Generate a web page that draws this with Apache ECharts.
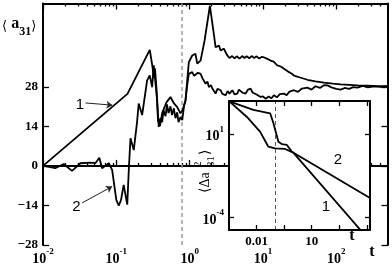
<!DOCTYPE html>
<html><head><meta charset="utf-8">
<script src="https://cdn.jsdelivr.net/npm/echarts@6/dist/echarts.min.js"></script>
<style>html,body{margin:0;padding:0;background:#fff}#c{width:392px;height:273px}</style>
</head><body><div id="c"></div>
<script>
// ---- main panel data ----
const curve1 = [[0.01,0],[0.142,25.5],[0.286,41.1],[0.311,35.2],[0.324,31.3],[0.337,34.5],[0.353,27.5],[0.370,16.2],[0.394,14.1],[0.422,18.7],[0.483,22.5],[0.548,24.4],[0.609,22.2],[0.677,20.8],[0.751,18.6],[0.80,19.7],[0.879,23.2],[0.975,36.7],[1.085,39.1],[1.20,39.7],[1.27,36.2],[1.41,37.3],[1.6,44.4],[1.89,56.7],[2.14,46.7],[2.26,42.0],[2.51,42.6],[2.64,40.9],[2.93,41.5],[3.26,39.1],[3.5,38.2],[3.8,38.9],[4.1,38.1],[4.4,38.8],[4.8,38.0],[5.2,38.9],[5.6,38.2],[6.0,38.8],[6.5,38.1],[7.0,38.9],[7.6,38.2],[8.2,38.8],[8.9,38.0],[9.6,38.6],[10.4,38.4],[11.5,37.9],[12.7,37.3],[14,36.9],[15.7,35.6],[17.5,35.2],[19.4,34.4],[21,33.8],[22.7,33.2],[24.5,32.7],[26.5,32.0],[32,31.3],[40.4,30.5],[52,29.9],[68,29.5],[90,29.1],[115,28.9],[150,28.7],[195,28.5],[260,28.4],[328,28.3],[500,28.2]];
const curve2 = [[0.01,0.1],[0.0147,-0.81],[0.0191,0.70],[0.0249,-1.76],[0.0323,0.95],[0.0443,1.16],[0.0518,0.95],[0.0587,2.9],[0.064,-0.81],[0.0787,0.95],[0.0877,-1.4],[0.100,-12.0],[0.108,-14.1],[0.116,-12.0],[0.126,-6.7],[0.141,-13.7],[0.148,-1.4],[0.156,9.8],[0.173,5.6],[0.192,15.6],[0.202,22.1],[0.225,18.0],[0.263,30.3],[0.286,32.0],[0.308,27.9],[0.324,35.6],[0.361,23.2],[0.379,13.8],[0.400,16.9],[0.422,15.5],[0.440,19.7],[0.469,17.6],[0.491,21.8],[0.515,18.7],[0.548,21.1],[0.575,18.0],[0.609,20.4],[0.641,16.9],[0.677,19.0],[0.705,15.5],[0.751,17.3],[0.793,16.2],[0.838,21.1],[0.879,23.2],[0.922,28.2],[0.975,32.6],[1.085,33.2],[1.15,31.9],[1.2,32.0],[1.3,33.0],[1.41,32.6],[1.5,31.0],[1.65,29.1],[1.75,29.9],[1.83,27.9],[1.95,28.6],[2.04,27.4],[2.15,26.5],[2.26,25.6],[2.4,27.3],[2.64,26.8],[2.8,25.5],[3.09,25.0],[3.3,26.5],[3.5,25.6],[3.82,26.8],[4.1,25.3],[4.47,25.6],[4.7,27.0],[4.96,27.4],[5.3,25.9],[5.8,25.6],[6.2,26.9],[6.79,27.4],[7.2,26.0],[7.54,26.2],[8.3,25.2],[9.31,24.4],[10,24.6],[10.9,23.8],[12,24.6],[13,23.9],[14.1,25.0],[15.5,24.3],[17,25.4],[19.4,25.6],[21,25.0],[23,26.3],[26.5,26.8],[30,26.2],[34,27.4],[40.4,27.7],[46,27.0],[52,28.2],[60,27.6],[68,28.6],[76,28.5],[86,27.8],[100,27.3],[115,27.0],[130,27.6],[150,27.3],[170,27.9],[195,27.7],[230,28.3],[270,27.8],[328,28.2],[400,28.0],[500,28.2]];
const mainDashX = 0.78;
const arrow1 = [[0.0379,22.3],[0.0885,21.5]];
const arrow2 = [[0.0341,-13.1],[0.0877,-7.3]];

const xMajor = [0.01,0.1,1,10,100];
const xMajorExp = ['-2','-1','0','1','2'];
const xMinor = [0.02,0.03,0.04,0.05,0.06,0.07,0.08,0.09,0.2,0.3,0.4,0.5,0.6,0.7,0.8,0.9,2,3,4,5,6,7,8,9,20,30,40,50,60,70,80,90,200,300,400];
const yTicks = [-28,-14,0,14,28];
const yTickLabels = ['\u221228','\u221214','0','14','28'];

// ---- inset data ----
const inset1 = [[3.3e-4,950],[2.9e-3,114],[0.0155,14.5],[0.044,1.8],[0.102,1.45],[0.36,1.32],[1.0,0.79],[6000,1.26e-5]];
const inset2 = [[3.3e-4,950],[6.7e-3,290],[0.055,182],[0.083,46],[0.155,3.6],[0.237,2.6],[0.45,2.3],[0.83,0.91],[15000,1.5e-3]];
const insetDashX = 0.112;
const insetXTicks = [0.01,0.316,10,316,10000];
const insetXLabelVals = [0.01,10];
const insetXLabels = ['0.01','10'];
const insetYTicks = [10,1e-4];
const insetYExp = ['1','-4'];

const SERIF = "'Liberation Serif','Times New Roman',serif";
const SANS = "'Liberation Sans',Arial,sans-serif";
const supRich = {
  b:{fontFamily:SERIF,fontWeight:'bold',fontSize:14,color:'#000',lineHeight:19,verticalAlign:'bottom'},
  s:{fontFamily:SERIF,fontWeight:'bold',fontSize:9,color:'#000',lineHeight:10,verticalAlign:'top'}
};
const axLine = {show:true,lineStyle:{color:'#000',width:2}};

function xAx(grid,pos,ticks,len,labels,extra){
  return Object.assign({type:'log',gridIndex:grid,position:pos,logBase:10,
    axisLine:axLine,splitLine:{show:false},minorTick:{show:false},
    axisTick:{show:true,inside:true,length:len,customValues:ticks,lineStyle:{color:'#000',width:1.3}},
    axisLabel:labels||{show:false}},extra);
}

const chart = echarts.init(document.getElementById('c'),null,{renderer:'canvas'});
chart.setOption({
  animation:false,
  backgroundColor:'#fff',
  grid:[
    {left:43,right:4.5,top:3.5,bottom:28,show:false},
    {left:229,top:101,width:141,height:129,show:true,backgroundColor:'#fff',borderWidth:0,z:10}
  ],
  xAxis:[
    xAx(0,'bottom',xMajor,6,{show:true,customValues:xMajor,margin:2,rich:supRich,
      formatter:v=>{const i=xMajor.findIndex(m=>Math.abs(Math.log10(m)-Math.log10(v))<1e-6);return '{b|10}{s|'+xMajorExp[i]+'}';}},{min:0.01,max:500}),
    xAx(0,'bottom',xMinor,3,null,{min:0.01,max:500}),
    xAx(0,'top',xMajor,6,null,{min:0.01,max:500}),
    xAx(0,'top',xMinor,3,null,{min:0.01,max:500}),
    xAx(1,'bottom',insetXTicks,5,{show:true,customValues:insetXLabelVals,margin:5,
      fontFamily:SERIF,fontWeight:'bold',fontSize:13,color:'#000',
      formatter:v=>insetXLabels[v<1?0:1]},{min:3.162e-4,max:15000,z:20}),
    xAx(1,'top',insetXTicks,5,null,{min:3.162e-4,max:15000,z:20})
  ],
  yAxis:[
    {type:'value',gridIndex:0,position:'left',min:-28,max:57.5,axisLine:axLine,splitLine:{show:false},
      axisTick:{show:true,inside:true,length:6,customValues:yTicks,lineStyle:{color:'#000',width:1.3}},
      axisLabel:{show:true,customValues:yTicks,margin:5,fontFamily:SERIF,fontWeight:'bold',fontSize:13,color:'#000',
        formatter:v=>yTickLabels[yTicks.indexOf(Math.round(v))]}},
    {type:'value',gridIndex:0,position:'right',min:-28,max:57.5,axisLine:axLine,splitLine:{show:false},
      axisTick:{show:true,inside:true,length:6,customValues:yTicks,lineStyle:{color:'#000',width:1.3}},
      axisLabel:{show:false}},
    {type:'log',gridIndex:1,position:'left',min:1.8e-5,max:1000,axisLine:axLine,splitLine:{show:false},z:20,
      axisTick:{show:true,inside:true,length:5,customValues:insetYTicks,lineStyle:{color:'#000',width:1.3}},
      axisLabel:{show:true,customValues:insetYTicks,margin:5,rich:supRich,
        formatter:v=>'{b|10}{s|'+insetYExp[v>1?0:1]+'}'}},
    {type:'log',gridIndex:1,position:'right',min:1.8e-5,max:1000,axisLine:axLine,splitLine:{show:false},z:20,
      axisTick:{show:true,inside:true,length:5,customValues:insetYTicks,lineStyle:{color:'#000',width:1.3}},
      axisLabel:{show:false}}
  ],
  series:[
    {type:'line',xAxisIndex:0,yAxisIndex:0,data:curve1,symbol:'none',z:3,
      lineStyle:{color:'#000',width:1.8},
      markLine:{silent:true,symbol:'none',label:{show:false},z:2,
        lineStyle:{color:'#999',width:1.5,type:[4,3]},
        data:[{xAxis:mainDashX}]}},
    {type:'line',xAxisIndex:0,yAxisIndex:0,data:curve2,symbol:'none',z:3,
      lineStyle:{color:'#000',width:1.8}},
    {type:'line',xAxisIndex:0,yAxisIndex:0,data:[],symbol:'none',z:4,
      markLine:{silent:true,symbol:['none','arrow'],symbolSize:6,label:{show:false},
        lineStyle:{color:'#222',width:1,type:'solid'},
        data:[[{coord:arrow1[0]},{coord:arrow1[1]}],[{coord:arrow2[0]},{coord:arrow2[1]}]]}},
    {type:'line',xAxisIndex:4,yAxisIndex:2,data:inset1,symbol:'none',z:15,
      lineStyle:{color:'#000',width:1.8}},
    {type:'line',xAxisIndex:4,yAxisIndex:2,data:inset2,symbol:'none',z:15,
      lineStyle:{color:'#000',width:1.8},
      markLine:{silent:true,symbol:'none',label:{show:false},z:14,
        lineStyle:{color:'#555',width:1,type:[4,3]},
        data:[{xAxis:insetDashX}]}}
  ],
  graphic:[
    {type:'text',left:2,top:16,z:100,style:{
      text:'{n|\u27E8 }{a|a}{s|31}{n|\u27E9}',
      rich:{n:{fontFamily:"'DejaVu Serif',serif",fontSize:13,lineHeight:22,verticalAlign:'middle',fill:'#000'},
            a:{fontFamily:SERIF,fontWeight:'bold',fontSize:16,lineHeight:16,verticalAlign:'top',fill:'#000'},
            s:{fontFamily:SERIF,fontWeight:'bold',fontSize:12,lineHeight:12,verticalAlign:'bottom',fill:'#000'}}}},
    {type:'text',x:372,y:252,z:100,style:{text:'t',fontFamily:SERIF,fontWeight:'bold',fontSize:16,fill:'#000',align:'center',verticalAlign:'middle'}},
    {type:'text',x:352,y:236,z:100,style:{text:'t',fontFamily:SERIF,fontWeight:'bold',fontSize:16,fill:'#000',align:'center',verticalAlign:'middle'}},
    {type:'text',x:80,y:105,z:100,style:{text:'1',fontFamily:SANS,fontSize:15,fill:'#000',align:'center',verticalAlign:'middle'}},
    {type:'text',x:76.5,y:207,z:100,style:{text:'2',fontFamily:SANS,fontSize:15,fill:'#000',align:'center',verticalAlign:'middle'}},
    {type:'text',x:326,y:207,z:100,style:{text:'1',fontFamily:SANS,fontSize:15,fill:'#000',align:'center',verticalAlign:'middle'}},
    {type:'text',x:338,y:160,z:100,style:{text:'2',fontFamily:SANS,fontSize:15,fill:'#000',align:'center',verticalAlign:'middle'}},
    {type:'group',x:205,y:170,rotation:Math.PI/2,z:100,children:[
      {type:'text',x:-23,y:0,z:100,style:{text:'\u27E8\u0394a',fontFamily:"'Liberation Serif','DejaVu Serif',serif",fontSize:14,fill:'#000',align:'left',verticalAlign:'middle'}},
      {type:'text',x:3,y:-7,z:100,style:{text:'2',fontFamily:SERIF,fontSize:11,fill:'#000',align:'left',verticalAlign:'middle'}},
      {type:'text',x:3,y:6,z:100,style:{text:'31',fontFamily:SERIF,fontSize:11,fill:'#000',align:'left',verticalAlign:'middle'}},
      {type:'text',x:15,y:0,z:100,style:{text:'\u27E9',fontFamily:"'Liberation Serif','DejaVu Serif',serif",fontSize:14,fill:'#000',align:'left',verticalAlign:'middle'}}
    ]}
  ]
});
</script></body></html>
